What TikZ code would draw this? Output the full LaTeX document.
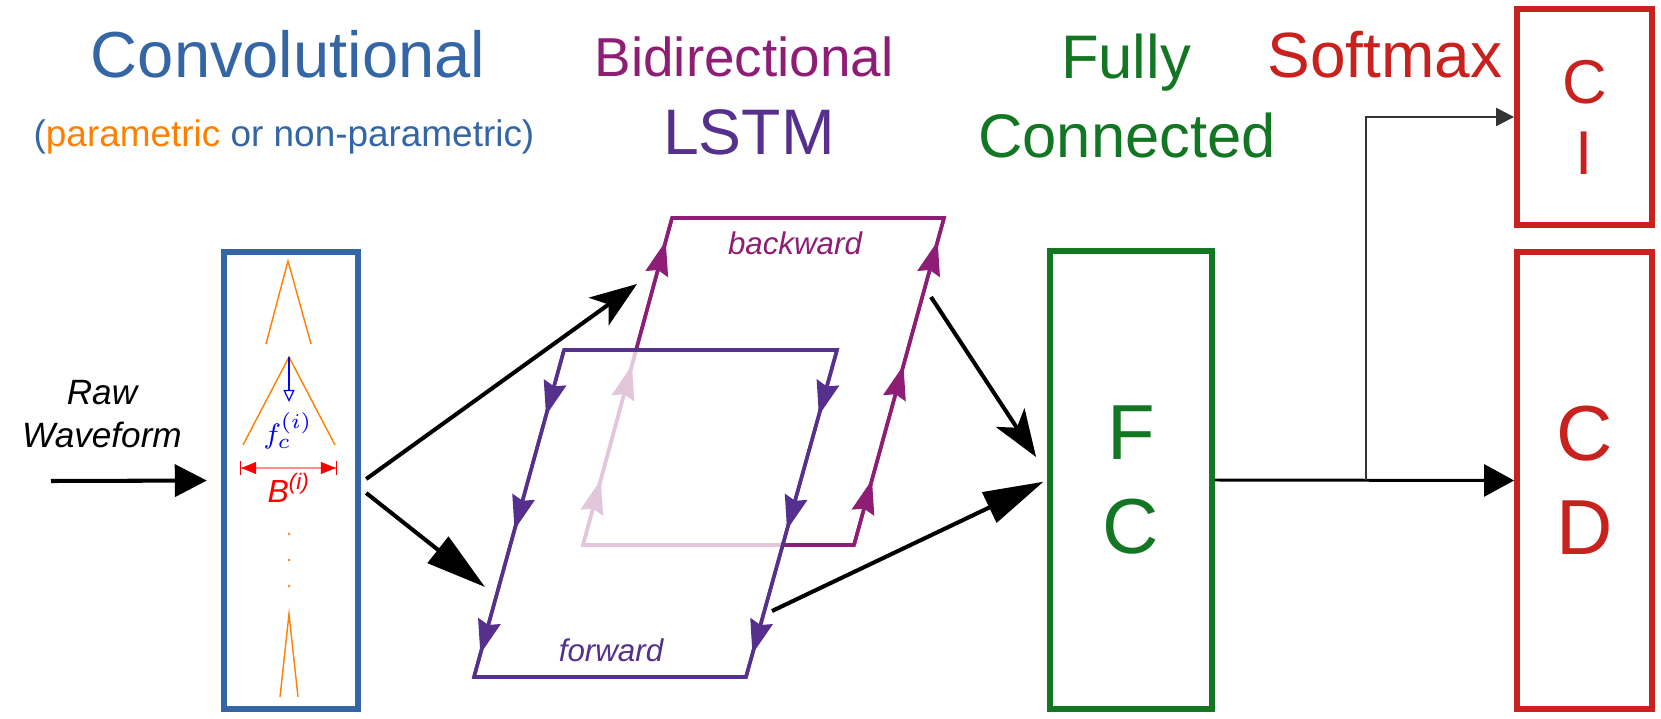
\documentclass[tikz,border=0pt]{standalone}
\usepackage{fontspec}
\setmainfont{Liberation Sans}
\usepackage{xcolor}
\usepackage{tikz}
\usetikzlibrary{positioning,arrows.meta,decorations.markings,calc}

\definecolor{convblue}{HTML}{3465A4}
\definecolor{paramorange}{HTML}{FF8000}
\definecolor{bwdmagenta}{HTML}{8D1D75}
\definecolor{fwdpurple}{HTML}{55308D}
\definecolor{fcgreen}{HTML}{127622}
\definecolor{smred}{HTML}{C9211E}
\definecolor{linkgray}{HTML}{333333}

\begin{document}
\begin{tikzpicture}[x=0.01cm, y=-0.01cm,
  layerbox/.style={draw, line width=1.65pt, inner sep=0pt, align=center},
  title/.style={anchor=base, inner sep=0pt},
  plane/.style={line width=1pt, line join=miter},
  flow/.style={postaction={decorate}, decoration={markings,
      mark=at position 0.2 with {\arrow{Stealth[length=0.34cm,width=0.23cm,inset=0.04cm]}},
      mark=at position 0.55 with {\arrow{Stealth[length=0.34cm,width=0.23cm,inset=0.04cm]}},
      mark=at position 0.93 with {\arrow{Stealth[length=0.34cm,width=0.23cm,inset=0.04cm]}}}},
  feed/.style={line width=1.15pt, -{Stealth[length=0.47cm,width=0.34cm,inset=0.12cm]}},
  feedwide/.style={line width=1.15pt, -{Triangle[length=0.6cm,width=0.33cm]}},
  filt/.style={paramorange, line width=0.4pt}]

\useasboundingbox (0,0) rectangle (1661,719);

% titles
\node[title, convblue, font=\fontsize{18.5}{22}\selectfont] (tconv) at (288,78) {Convolutional};
\node[title, convblue, font=\fontsize{10.5}{13}\selectfont] (tparam) at (284,147) {(\textcolor{paramorange}{parametric} or non-parametric)};
\node[title, bwdmagenta, font=\fontsize{15.6}{18}\selectfont] (tbidir) at (744,77) {Bidirectional};
\node[title, fwdpurple, font=\fontsize{18.3}{21}\selectfont] (tlstm) at (749,155) {LSTM};
\node[title, fcgreen, font=\fontsize{17.5}{21}\selectfont] (tfully) at (1126,79) {Fully};
\node[title, fcgreen, font=\fontsize{17.5}{21}\selectfont] (tconn) at (1127,158) {Connected};
\node[title, smred, font=\fontsize{18.2}{21}\selectfont] (tsoft) at (1385,78) {Softmax};

% layer boxes
\node[layerbox, convblue, minimum width=1.345cm, minimum height=4.57cm] (conv) at (291,480.5) {};
\node[layerbox, fcgreen, minimum width=1.62cm, minimum height=4.58cm,
      font=\fontsize{22.2}{26.7}\selectfont] (fc) at (1131,480) {F\\C};
\node[layerbox, smred, minimum width=1.35cm, minimum height=2.16cm,
      font=\fontsize{17.6}{20.2}\selectfont] (ci) at (1584.5,117) {C\\I};
\node[layerbox, smred, minimum width=1.35cm, minimum height=4.57cm,
      font=\fontsize{22.2}{26.7}\selectfont] (cd) at (1584.5,480.5) {C\\D};

% input
\node[align=center, inner sep=0pt, font=\itshape\fontsize{10}{12}\selectfont] (raw) at (102,414) {Raw\\Waveform};
\coordinate (rawin) at (51,481);
\draw[line width=1.15pt, -{Triangle[length=0.32cm,width=0.32cm]}, shorten >=0.14cm] (rawin) -- (conv.west);

% filters inside the conv box
\draw[filt] (266,344) -- (288,261) -- (311,344);
\draw[filt] (243,445) -- (289,357) -- (335,445);
\draw[filt] (280,697) -- (289,614) -- (298,697);
\draw[blue, line width=0.35pt, -{Triangle[open,length=0.12cm,width=0.11cm]}] (289,357) -- (289,402);
\node[blue, inner sep=0pt, font=\fontsize{8.5}{10}\selectfont] (fci) at (288,431) {$f_c^{(i)}$};
\draw[red!45, line width=0.35pt,
      {Bar[red,width=0.13cm]Triangle[red,length=0.15cm,width=0.12cm]}-{Triangle[red,length=0.15cm,width=0.12cm]Bar[red,width=0.13cm]}]
      (240,468) -- (337,468);
\node[title, red, font=\itshape\fontsize{9.1}{11}\selectfont] (bi) at (289,503) {B\textsuperscript{(i)}};
\foreach \y in {534,560,586}
  \fill[paramorange] (289,\y) circle (0.013cm);

% LSTM planes
\coordinate (bBL) at (583,545);
\coordinate (bBR) at (854,545);
\coordinate (bTR) at (944,218);
\coordinate (bTL) at (672,218);
\coordinate (fTL) at (564,350);
\coordinate (fTR) at (837,350);
\coordinate (fBR) at (746,677);
\coordinate (fBL) at (474,677);

\draw[plane, bwdmagenta] (bBL) -- (bTL) -- (bTR) -- (bBR) -- cycle;
\draw[plane, bwdmagenta, flow] (bBL) -- (bTL);
\draw[plane, bwdmagenta, flow] (bBR) -- (bTR);
\node[title, bwdmagenta, font=\itshape\fontsize{8.9}{11}\selectfont] (bwdlabel) at (795,255) {backward};

\fill[white, fill opacity=0.75] (fTL) -- (fTR) -- (fBR) -- (fBL) -- cycle;
\draw[plane, fwdpurple] (fTL) -- (fTR) -- (fBR) -- (fBL) -- cycle;
\draw[plane, fwdpurple, flow] (fTL) -- (fBL);
\draw[plane, fwdpurple, flow] (fTR) -- (fBR);
\node[title, fwdpurple, font=\itshape\fontsize{8.9}{11}\selectfont] (fwdlabel) at (611,662) {forward};

% connections
\coordinate (bwdin) at (637,284);
\coordinate (fwdin) at (485,587);
\coordinate (bwdout) at (931,297);
\coordinate (fwdout) at (772,611);
\draw[feed] ([xshift=0.05cm,yshift=0.015cm]conv.east) -- (bwdin);
\draw[feedwide] ([xshift=0.05cm,yshift=-0.125cm]conv.east) -- (fwdin);
\draw[feed] (bwdout) -- ([xshift=-0.11cm,yshift=0.23cm]fc.west);
\draw[feedwide, shorten >=0.04cm] (fwdout) -- (fc.west);

\coordinate (split) at (1366,480);
\draw[line width=0.85pt, -{Triangle[length=0.3cm,width=0.32cm]}] (fc.east) -- (cd.west);
\draw[linkgray, line width=0.6pt, -{Triangle[length=0.18cm,width=0.18cm]}] (split) |- (ci.west);
\end{tikzpicture}
\end{document}
